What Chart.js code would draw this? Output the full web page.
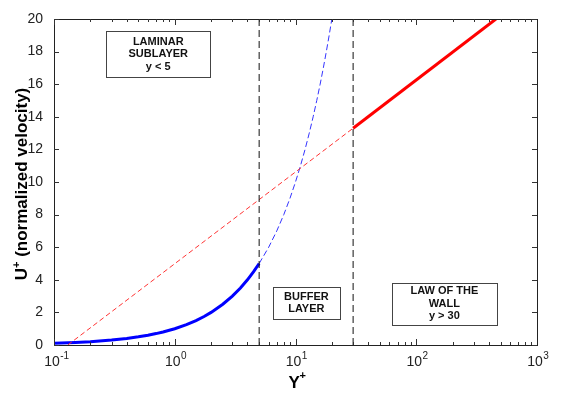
<!DOCTYPE html>
<html><head><meta charset="utf-8">
<script src="https://cdn.jsdelivr.net/npm/chart.js@4/dist/chart.umd.min.js"></script>
<style>html,body{margin:0;padding:0;background:#fff}#wrap{width:570px;height:398px}</style>
</head><body><div id="wrap"><canvas id="c" width="570" height="398"></canvas></div>
<script>
// ---- data ----
const viscousX = [0.1,0.15,0.2,0.3,0.4,0.5,0.6,0.7,0.8,1,1.25,1.5,1.75,2,2.5,3,3.5,4,4.5,5];
const viscousU = [0.1,0.15,0.2,0.3,0.4,0.5,0.6,0.7,0.8,1,1.25,1.5,1.75,2,2.5,3,3.5,4,4.5,5];
const viscousExtX = [5,6,7,8,9,10,11,12,13,14,15,16,17,18,19,20];
const viscousExtU = [5,6,7,8,9,10,11,12,13,14,15,16,17,18,19,20];
const logLawExtX = [0.13,30];
const logLawExtU = [0,13.3];
const logLawX = [30,457];
const logLawU = [13.3,20];
const boundaryX = [5,30];
const boundaryU = [0,20];
const xTickBases = ['10','10','10','10','10'];
const xTickExps = ['-1','0','1','2','3'];
const xTickValues = [0.1,1,10,100,1000];
const regionLabels = [['LAMINAR','SUBLAYER','y < 5'],['BUFFER','LAYER'],['LAW OF THE','WALL','y > 30']];
const regionCenterX = [0.73,12.3,171];
const regionCenterU = [17.85,2.58,2.52];
const regionBoxW = [104,67,105];
const regionBoxH = [46,32,42];

const pts = (xs, ys) => xs.map((x,i)=>({x, y: ys[i]}));
const FONT = '"Liberation Sans", Arial, sans-serif';

const datasets = [];
boundaryX.forEach(bx => datasets.push({
  data: pts([bx,bx], boundaryU), borderColor:'#111', borderWidth:1, borderDash:[7,4],
  pointRadius:0, showLine:true, fill:false
}));
datasets.push({data: pts(logLawExtX, logLawExtU), borderColor:'#ff3333', borderWidth:1, borderDash:[5,3], pointRadius:0, showLine:true});
datasets.push({data: pts(viscousExtX, viscousExtU), borderColor:'#3333ff', borderWidth:1, borderDash:[6,3], pointRadius:0, showLine:true});
datasets.push({data: pts(viscousX, viscousU), borderColor:'#0000ff', borderWidth:3, pointRadius:0, showLine:true});
datasets.push({data: pts(logLawX, logLawU), borderColor:'#ff0000', borderWidth:3, pointRadius:0, showLine:true});

const decor = {
  id:'decor',
  afterDatasetsDraw(chart){
    const ctx = chart.ctx, xs = chart.scales.x, ys = chart.scales.y, a = chart.chartArea;
    ctx.save();
    // frame
    ctx.strokeStyle = '#222'; ctx.lineWidth = 1;
    ctx.strokeRect(Math.round(a.left)+0.5, Math.round(a.top)+0.5, Math.round(a.right-a.left), Math.round(a.bottom-a.top));
    // x ticks
    ctx.strokeStyle = '#333';
    for (let e=-1; e<3; e++){
      for (let m=1; m<10; m++){
        const v = m*Math.pow(10,e);
        const px = Math.round(xs.getPixelForValue(v))+0.5;
        const len = m===1 ? 6 : 3;
        ctx.beginPath();
        ctx.moveTo(px, a.bottom); ctx.lineTo(px, a.bottom-len);
        ctx.moveTo(px, a.top); ctx.lineTo(px, a.top+len);
        ctx.stroke();
      }
    }
    // y ticks
    for (let v=0; v<=20; v+=2){
      const py = Math.round(ys.getPixelForValue(v))+0.5;
      ctx.beginPath();
      ctx.moveTo(a.left, py); ctx.lineTo(a.left+5, py);
      ctx.moveTo(a.right, py); ctx.lineTo(a.right-5, py);
      ctx.stroke();
    }
    // x tick labels with superscripts
    ctx.fillStyle = '#222'; ctx.textBaseline = 'alphabetic';
    xTickValues.forEach((v,i)=>{
      const px = xs.getPixelForValue(v);
      ctx.font = '14px ' + FONT;
      const bw = ctx.measureText(xTickBases[i]).width;
      const x0 = px - bw/2 - 2;
      ctx.textAlign = 'left';
      ctx.fillText(xTickBases[i], x0, 366);
      ctx.font = '10px ' + FONT;
      ctx.fillText(xTickExps[i], x0 + bw + 0.5, 359);
    });
    // axis titles
    ctx.fillStyle = '#000';
    ctx.font = 'bold 17px ' + FONT; ctx.textAlign='left';
    const cx = (a.left+a.right)/2;
    ctx.fillText('Y', cx-7, 388);
    ctx.font = 'bold 11px ' + FONT;
    ctx.fillText('+', cx+4, 379);
    ctx.save();
    ctx.translate(27, (a.top+a.bottom)/2 + 2);
    ctx.rotate(-Math.PI/2);
    ctx.font = 'bold 17px ' + FONT;
    const t1 = 'U', t2 = ' (normalized velocity)';
    const w1 = ctx.measureText(t1).width, w2 = ctx.measureText(t2).width;
    ctx.font = 'bold 11px ' + FONT;
    const wp = ctx.measureText('+').width;
    let sx = -(w1+wp+w2)/2;
    ctx.font = 'bold 17px ' + FONT;
    ctx.fillText(t1, sx, 0);
    ctx.font = 'bold 11px ' + FONT;
    ctx.fillText('+', sx+w1, -7);
    ctx.font = 'bold 17px ' + FONT;
    ctx.fillText(t2, sx+w1+wp, 0);
    ctx.restore();
    // region boxes
    regionLabels.forEach((lines,i)=>{
      const cxp = xs.getPixelForValue(regionCenterX[i]);
      const cyp = ys.getPixelForValue(regionCenterU[i]);
      const w = regionBoxW[i], h = regionBoxH[i];
      const l = Math.round(cxp-w/2)+0.5, t = Math.round(cyp-h/2)+0.5;
      ctx.fillStyle = '#fff'; ctx.fillRect(l,t,w,h);
      ctx.strokeStyle = '#444'; ctx.lineWidth = 1; ctx.strokeRect(l,t,w,h);
      ctx.fillStyle = '#111'; ctx.font = 'bold 11px ' + FONT; ctx.textAlign='center'; ctx.textBaseline='middle';
      const lh = 12.5;
      lines.forEach((s,j)=>{
        ctx.fillText(s, cxp, cyp + (j-(lines.length-1)/2)*lh);
      });
    });
    ctx.restore();
  }
};

new Chart(document.getElementById('c'), {
  type:'scatter',
  data:{datasets},
  options:{
    responsive:false, animation:false,
    layout:{padding:{top:19,right:33,left:0,bottom:0}},
    plugins:{legend:{display:false}, tooltip:{enabled:false}},
    elements:{line:{tension:0}},
    scales:{
      x:{type:'logarithmic', min:0.1, max:1000,
        grid:{display:false}, border:{display:false},
        ticks:{display:false},
        afterFit(s){ s.height = 53; }
      },
      y:{type:'linear', min:0, max:20,
        grid:{display:false}, border:{display:false},
        ticks:{stepSize:2, padding:3, color:'#222', font:{family:FONT, size:14}},
        afterFit(s){ s.width = 54; }
      }
    }
  },
  plugins:[decor]
});
</script>
</body></html>
